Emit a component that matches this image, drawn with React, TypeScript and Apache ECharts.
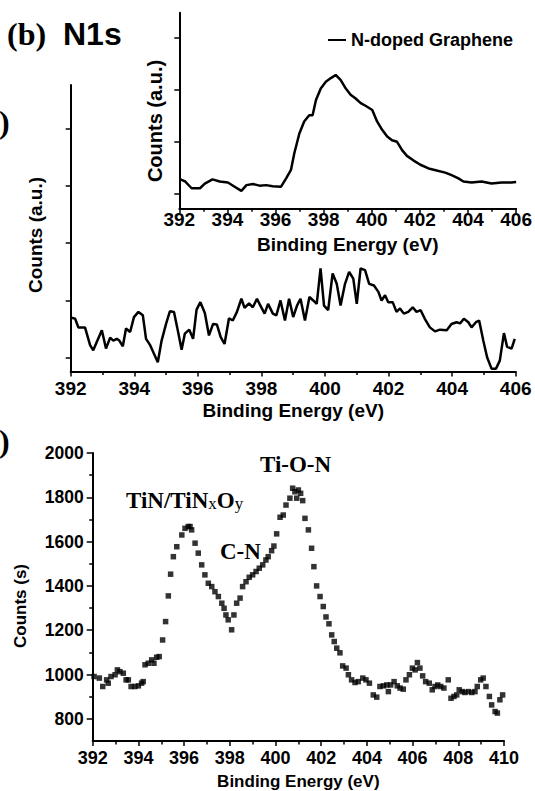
import React, { useEffect, useRef } from "react";
import * as echarts from "echarts";

// ---- Panel (b) main: N1s spectrum (a.u.) ----
const topEnergy = [
  392.02, 392.14, 392.24, 392.45, 392.61, 392.71, 392.84, 392.98, 393.11, 393.24,
  393.34, 393.45, 393.53, 393.64, 393.74, 393.87, 393.99, 394.13, 394.27, 394.37,
  394.5, 394.62, 394.74, 394.86, 395.0, 395.12, 395.25, 395.35, 395.49, 395.59,
  395.73, 395.85, 395.96, 396.08, 396.22, 396.35, 396.48, 396.6, 396.72, 396.84,
  396.98, 397.1, 397.23, 397.37, 397.47, 397.61, 397.73, 397.86, 397.94, 398.1,
  398.21, 398.36, 398.47, 398.6, 398.74, 398.87, 399.0, 399.12, 399.23, 399.37,
  399.51, 399.63, 399.74, 399.86, 399.97, 400.1, 400.24, 400.37, 400.49, 400.63,
  400.76, 400.89, 401.0, 401.12, 401.26, 401.39, 401.54, 401.68, 401.78, 401.89,
  401.99, 402.13, 402.25, 402.36, 402.48, 402.62, 402.76, 402.88, 403.01, 403.14,
  403.3, 403.46, 403.62, 403.83, 403.98, 404.14, 404.25, 404.37, 404.51, 404.61,
  404.75, 404.85, 404.98, 405.1, 405.24, 405.38, 405.5, 405.63, 405.73, 405.87,
  405.97,
];
const topCounts = [
  0.7, 0.68, 0.53, 0.53, 0.22, 0.13, 0.3, 0.48, 0.16, 0.35,
  0.3, 0.33, 0.3, 0.2, 0.51, 0.45, 0.71, 0.8, 0.74, 0.33,
  0.22, 0.07, -0.08, 0.3, 0.59, 0.81, 0.8, 0.53, 0.14, 0.42,
  0.49, 0.33, 0.84, 0.97, 0.78, 0.39, 0.59, 0.58, 0.36, 0.24,
  0.69, 0.65, 0.8, 1.03, 0.87, 0.95, 0.88, 1.03, 0.94, 0.77,
  0.94, 0.77, 0.74, 1.0, 0.65, 1.03, 0.71, 0.91, 1.03, 0.65,
  1.06, 1.0, 0.94, 1.56, 0.91, 0.83, 1.47, 1.29, 0.91, 1.29,
  1.5, 1.38, 0.94, 1.56, 1.53, 1.29, 1.26, 1.15, 1.0, 1.09,
  0.97, 0.97, 0.8, 0.86, 0.77, 0.8, 0.88, 0.8, 0.83, 0.68,
  0.53, 0.46, 0.49, 0.48, 0.59, 0.62, 0.6, 0.68, 0.62, 0.53,
  0.62, 0.65, 0.3, 0.01, -0.19, -0.19, -0.05, 0.43, 0.19, 0.16,
  0.33,
];
const topYTicks = [0, 1, 2, 3, 4];

// ---- Inset: N-doped Graphene ----
const insetEnergy = [
  392.0, 392.24, 392.51, 392.86, 393.06, 393.38, 393.68, 394.02, 394.3, 394.58,
  394.79, 395.06, 395.33, 395.61, 395.88, 396.23, 396.44, 396.64, 396.78, 396.99,
  397.19, 397.4, 397.54, 397.68, 397.88, 398.09, 398.3, 398.5, 398.71, 398.92,
  399.12, 399.33, 399.54, 399.74, 400.02, 400.22, 400.43, 400.64, 400.84, 401.05,
  401.26, 401.46, 401.74, 402.02, 402.36, 402.7, 403.05, 403.32, 403.6, 403.81,
  404.15, 404.56, 404.98, 405.39, 405.8, 406.0,
];
const insetCounts = [
  0.29, 0.24, 0.11, 0.11, 0.2, 0.28, 0.24, 0.22, 0.14, 0.06,
  0.17, 0.19, 0.16, 0.17, 0.15, 0.14, 0.3, 0.46, 0.78, 1.16,
  1.39, 1.51, 1.51, 1.8, 2.02, 2.15, 2.22, 2.28, 2.18, 2.02,
  1.9, 1.83, 1.74, 1.69, 1.61, 1.39, 1.23, 1.1, 1.03, 1.0,
  0.84, 0.73, 0.64, 0.56, 0.49, 0.45, 0.41, 0.36, 0.3, 0.24,
  0.22, 0.24, 0.2, 0.22, 0.22, 0.23,
];
const insetYTicks = [0, 1, 2, 3];

// ---- Lower panel: Counts (s) scatter ----
const tiEnergy = [
  392.06, 392.29, 392.44, 392.61, 392.68, 392.8, 392.98, 393.08, 393.19, 393.34,
  393.46, 393.56, 393.68, 393.85, 394.0, 394.14, 394.21, 394.29, 394.43, 394.58,
  394.68, 394.8, 394.91, 395.06, 395.19, 395.31, 395.41, 395.53, 395.68, 395.9,
  396.04, 396.18, 396.26, 396.33, 396.48, 396.62, 396.77, 396.91, 397.06, 397.21,
  397.35, 397.5, 397.65, 397.75, 397.83, 397.93, 398.08, 398.18, 398.3, 398.45,
  398.56, 398.71, 398.85, 399.0, 399.15, 399.29, 399.44, 399.58, 399.68, 399.83,
  399.93, 400.05, 400.2, 400.34, 400.46, 400.63, 400.75, 400.85, 400.93, 401.0,
  401.1, 401.19, 401.29, 401.44, 401.58, 401.68, 401.8, 401.95, 402.09, 402.21,
  402.34, 402.46, 402.57, 402.68, 402.82, 402.94, 403.09, 403.19, 403.33, 403.48,
  403.62, 403.82, 403.96, 404.11, 404.28, 404.43, 404.57, 404.72, 404.87, 404.94,
  405.04, 405.19, 405.33, 405.45, 405.59, 405.71, 405.86, 405.99, 406.11, 406.21,
  406.32, 406.44, 406.57, 406.73, 406.86, 406.98, 407.1, 407.23, 407.37, 407.56,
  407.68, 407.81, 407.93, 408.04, 408.17, 408.29, 408.44, 408.59, 408.73, 408.83,
  408.98, 409.09, 409.21, 409.36, 409.46, 409.61, 409.71, 409.82, 409.94,
];
const tiCounts = [
  991, 984, 946, 976, 961, 991, 999, 1021, 1013, 1006,
  976, 976, 946, 946, 949, 961, 968, 1044, 1051, 1066,
  1051, 1078, 1081, 1156, 1239, 1355, 1453, 1532, 1577, 1630,
  1660, 1668, 1668, 1653, 1593, 1548, 1495, 1450, 1412, 1397,
  1374, 1352, 1322, 1299, 1269, 1247, 1202, 1269, 1322, 1345,
  1397, 1419, 1439, 1450, 1465, 1480, 1495, 1517, 1532, 1559,
  1580, 1635, 1710, 1720, 1765, 1796, 1841, 1825, 1796, 1833,
  1818, 1785, 1705, 1653, 1570, 1487, 1400, 1352, 1307, 1260,
  1229, 1179, 1149, 1119, 1098, 1039, 1029, 999, 976, 964,
  968, 984, 976, 961, 908, 898, 946, 949, 953, 923,
  953, 968, 949, 939, 934, 976, 999, 1029, 1021, 1054,
  1029, 994, 968, 961, 931, 946, 953, 946, 939, 976,
  893, 901, 908, 931, 923, 919, 923, 919, 923, 946,
  976, 984, 946, 901, 863, 833, 826, 886, 908,
];
const tiYLabels = [800, 1000, 1200, 1400, 1600, 1800, 2000];
const tiYMinor = [900, 1100, 1300, 1500, 1700, 1900];

const SANS = '"Liberation Sans", Arial, sans-serif';
const SERIF = '"Liberation Serif", "Times New Roman", serif';
const BLACK = "#000";

const zip = (xs: number[], ys: number[]) => xs.map((x, i) => [x, ys[i]]);
const plain = (v: number) => String(v);

function energyAxis(gridIndex: number, min: number, max: number, fontSize: number, margin: number, nameGap: number, nameSize: number) {
  return {
    type: "value",
    gridIndex,
    min,
    max,
    interval: 2,
    axisLine: { show: true, onZero: false, lineStyle: { color: BLACK, width: 2 } },
    axisTick: { show: true, inside: false, length: 5, lineStyle: { color: BLACK, width: 1.5 } },
    minorTick: { show: true, splitNumber: 2, length: 3.5, lineStyle: { color: BLACK, width: 1.5 } },
    splitLine: { show: false },
    minorSplitLine: { show: false },
    axisLabel: { color: BLACK, fontSize, fontWeight: "bold", fontFamily: SANS, margin, formatter: plain },
    name: "Binding Energy (eV)",
    nameLocation: "middle",
    nameGap,
    nameTextStyle: { color: BLACK, fontSize: nameSize, fontWeight: "bold", fontFamily: SANS },
  };
}

function rotatedName(text: string, x: number, y: number, size: number) {
  return {
    type: "text",
    x,
    y,
    rotation: Math.PI / 2,
    style: {
      text,
      fill: BLACK,
      font: `bold ${size}px ${SANS}`,
      align: "center",
      verticalAlign: "middle",
      textAlign: "center",
      textVerticalAlign: "middle",
    },
  };
}

function label(text: string, x: number, y: number, font: string) {
  return {
    type: "text",
    x,
    y,
    style: {
      text,
      fill: BLACK,
      font,
      align: "left",
      verticalAlign: "middle",
      textAlign: "left",
      textVerticalAlign: "middle",
    },
  };
}

export default function App() {
  const ref = useRef<HTMLDivElement>(null);

  useEffect(() => {
    if (!ref.current) return;
    const chart = echarts.init(ref.current, null, { renderer: "svg" });
    const option: any = {
      animation: false,
      backgroundColor: "#fff",
      grid: [
        { left: 70.7, top: 85, width: 445, height: 286.5, containLabel: false },
        { left: 179.3, top: 12.7, width: 339, height: 195.6, containLabel: false },
        { left: 92.7, top: 453, width: 411.3, height: 289, containLabel: false },
      ],
      xAxis: [
        energyAxis(0, 392, 406, 19, 7, 29, 19),
        energyAxis(1, 392, 406, 19, 2, 27, 19),
        energyAxis(2, 392, 410, 18, 8, 32, 17),
      ],
      yAxis: [
        {
          type: "value",
          gridIndex: 0,
          min: -0.24,
          max: 4.76,
          axisLine: { show: true, onZero: false, lineStyle: { color: BLACK, width: 2 } },
          axisTick: { show: true, inside: false, length: 5, customValues: topYTicks, lineStyle: { color: BLACK, width: 1.5 } },
          axisLabel: { show: false },
          splitLine: { show: false },
        },
        {
          type: "value",
          gridIndex: 1,
          min: -0.274,
          max: 3.473,
          axisLine: { show: true, onZero: false, lineStyle: { color: BLACK, width: 2 } },
          axisTick: { show: true, inside: false, length: 5, customValues: insetYTicks, lineStyle: { color: BLACK, width: 1.5 } },
          axisLabel: { show: false },
          splitLine: { show: false },
        },
        {
          type: "value",
          gridIndex: 2,
          min: 700,
          max: 2000,
          axisLine: { show: true, onZero: false, lineStyle: { color: BLACK, width: 2 } },
          axisTick: { show: true, inside: false, length: 6, customValues: tiYLabels, lineStyle: { color: BLACK, width: 1.5 } },
          axisLabel: { show: true, customValues: tiYLabels, formatter: plain, color: BLACK, fontSize: 17.5, fontWeight: "bold", fontFamily: SANS, margin: 9 },
          splitLine: { show: false },
        },
        {
          type: "value",
          gridIndex: 2,
          min: 700,
          max: 2000,
          position: "left",
          axisLine: { show: false, onZero: false },
          axisTick: { show: true, inside: false, length: 3.5, customValues: tiYMinor, lineStyle: { color: BLACK, width: 1.5 } },
          axisLabel: { show: false },
          splitLine: { show: false },
        },
      ],
      legend: {
        data: ["N-doped Graphene"],
        left: 328,
        top: 31,
        padding: 0,
        icon: "rect",
        itemWidth: 18,
        itemHeight: 2,
        textStyle: { color: BLACK, fontSize: 18, fontWeight: "bold", fontFamily: SANS },
        selectedMode: false,
      },
      series: [
        {
          name: "N1s",
          type: "line",
          xAxisIndex: 0,
          yAxisIndex: 0,
          data: zip(topEnergy, topCounts),
          showSymbol: false,
          symbol: "none",
          lineStyle: { color: BLACK, width: 2.5 },
          itemStyle: { color: BLACK },
        },
        {
          name: "N-doped Graphene",
          type: "line",
          xAxisIndex: 1,
          yAxisIndex: 1,
          data: zip(insetEnergy, insetCounts),
          showSymbol: false,
          symbol: "none",
          lineStyle: { color: BLACK, width: 2.5 },
          itemStyle: { color: BLACK },
        },
        {
          name: "Counts",
          type: "scatter",
          xAxisIndex: 2,
          yAxisIndex: 2,
          data: zip(tiEnergy, tiCounts),
          symbol: "rect",
          symbolSize: 5.5,
          itemStyle: { color: BLACK },
        },
      ],
      graphic: [
        label("(b)", 7, 34, `bold 32px ${SERIF}`),
        label("N1s", 63, 34, `bold 32px ${SANS}`),
        label(")", -1, 122, `bold 32px ${SERIF}`),
        label(")", -1, 441, `bold 32px ${SERIF}`),
        rotatedName("Counts (a.u.)", 155, 121, 20),
        rotatedName("Counts (a.u.)", 35, 235, 19),
        rotatedName("Counts (s)", 20, 606, 17),
        {
          type: "text",
          x: 126,
          y: 500,
          style: {
            text: "{a|TiN/TiN}{b|x}{a|O}{b|y}",
            rich: {
              a: { fill: BLACK, color: BLACK, fontFamily: SERIF, fontWeight: "bold", fontSize: 23, lineHeight: 24, verticalAlign: "bottom" },
              b: { fill: BLACK, color: BLACK, fontFamily: SERIF, fontWeight: "normal", fontSize: 17, lineHeight: 19, verticalAlign: "bottom" },
            },
            align: "left",
            verticalAlign: "middle",
            textAlign: "left",
            textVerticalAlign: "middle",
          },
        },
        label("C-N", 220, 551, `bold 23px ${SERIF}`),
        label("Ti-O-N", 260, 464, `bold 23px ${SERIF}`),
      ],
    };
    chart.setOption(option);
    return () => {
      chart.dispose();
    };
  }, []);

  return (
    <div
      ref={ref}
      style={{ position: "absolute", left: 0, top: 0, width: 535, height: 791, background: "#fff" }}
    />
  );
}
